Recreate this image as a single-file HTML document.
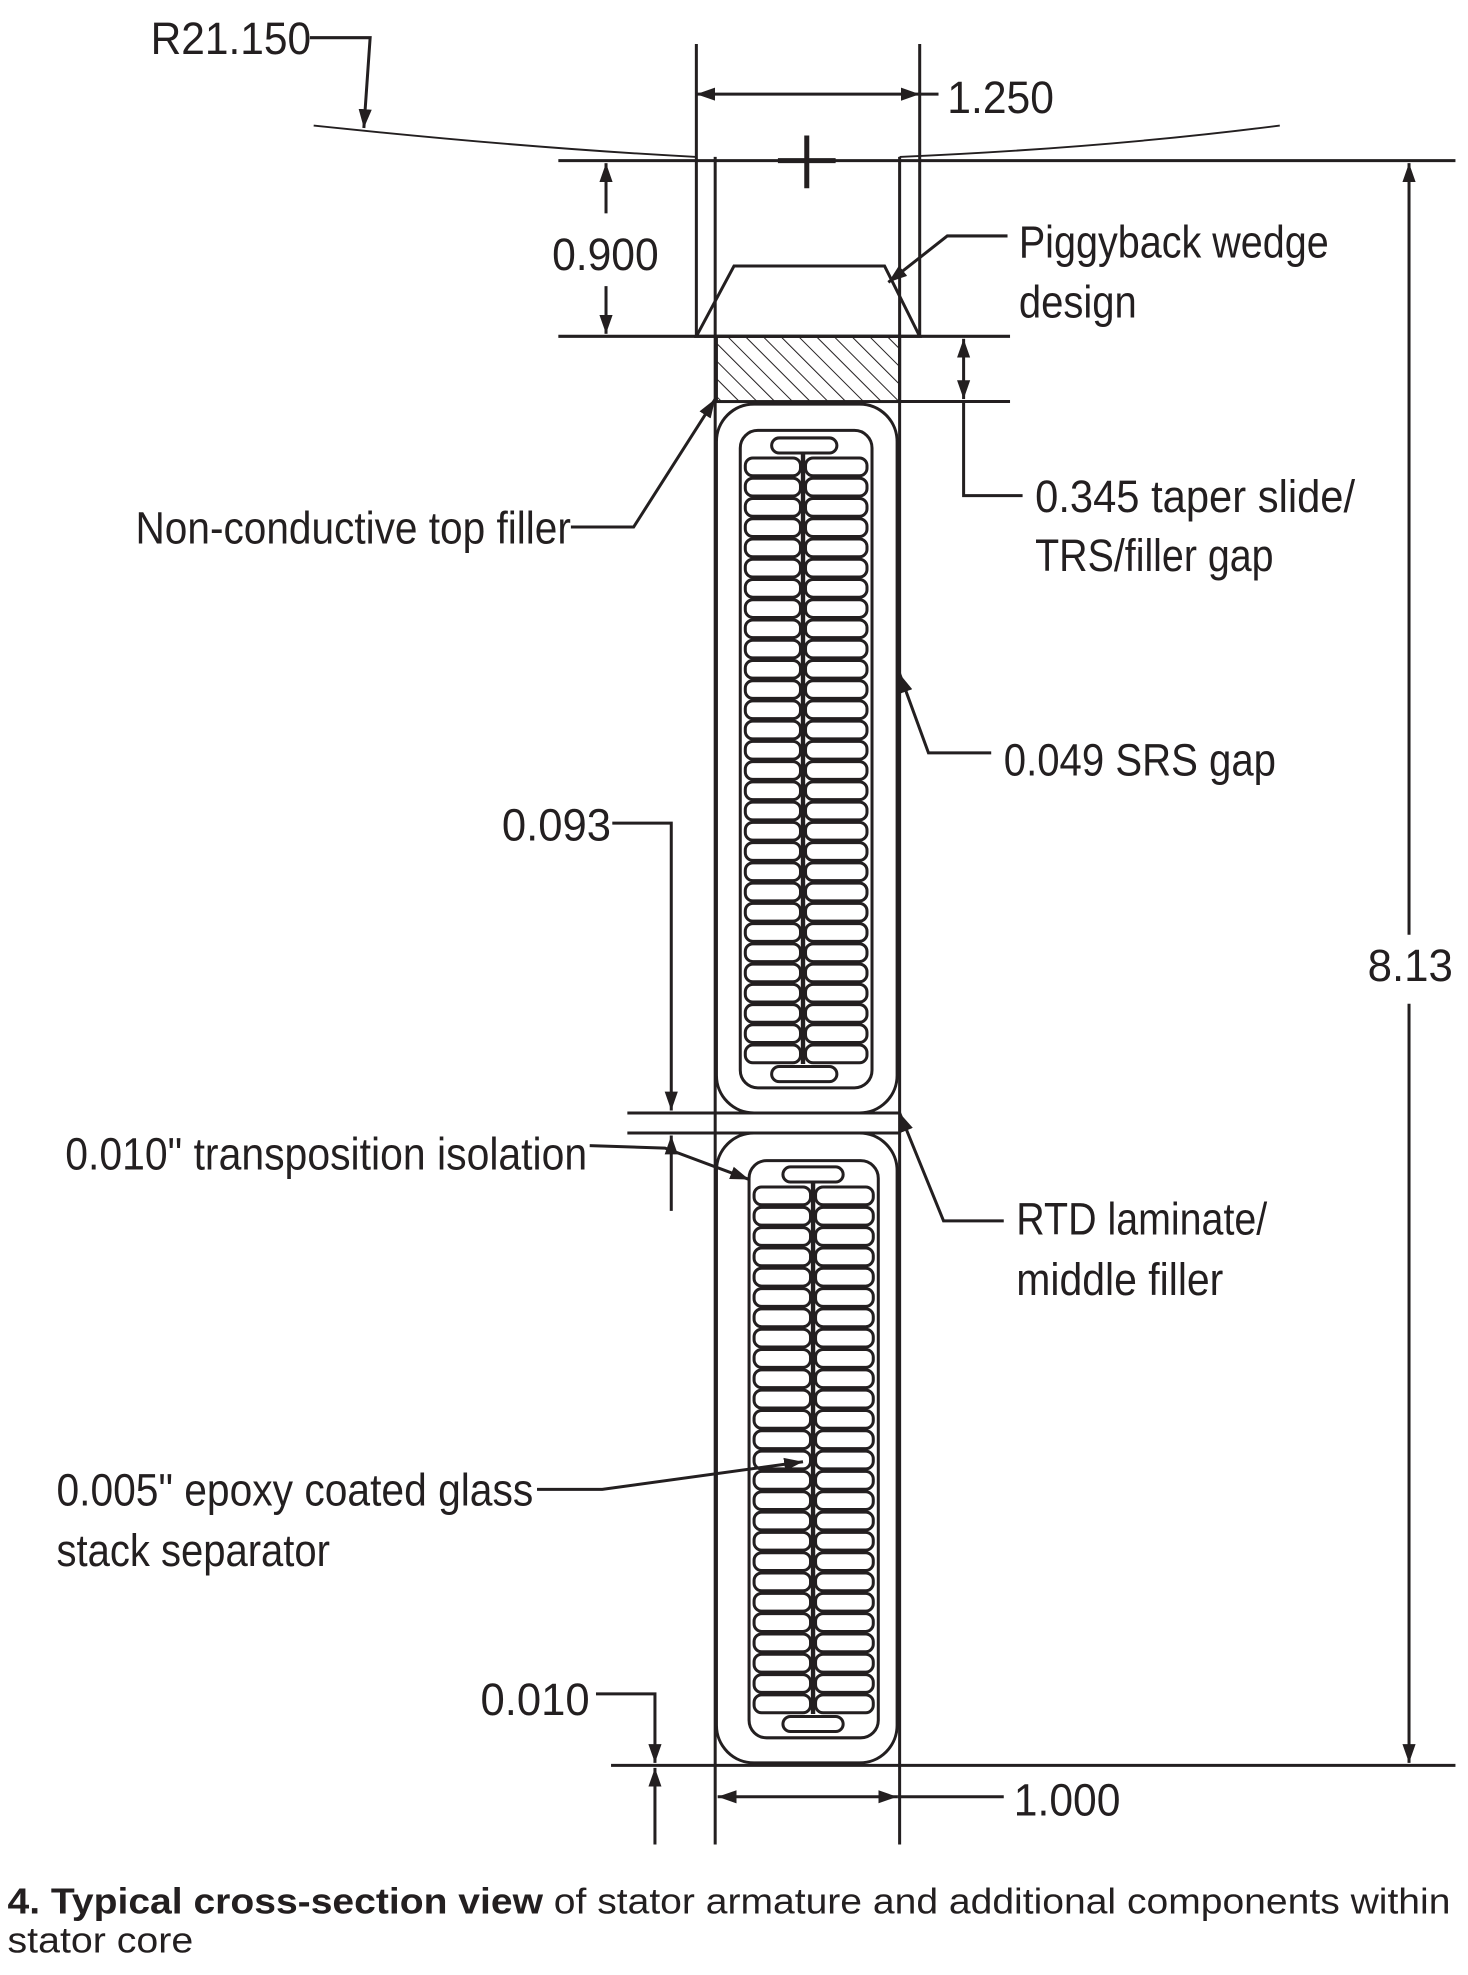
<!DOCTYPE html>
<html><head><meta charset="utf-8"><style>
html,body{margin:0;padding:0;background:#fff;}
svg{display:block;}
text{font-family:"Liberation Sans Narrow","Liberation Sans",sans-serif;fill:#231f20;}
.cap{font-family:"Liberation Sans",sans-serif;}
</style></head><body>
<svg id="s" width="1468" height="1975" viewBox="0 0 1170 1574" xmlns="http://www.w3.org/2000/svg">
<defs>
<marker id="a" viewBox="0 0 10 10" refX="10" refY="5" markerWidth="15" markerHeight="15" orient="auto-start-reverse" markerUnits="userSpaceOnUse"><path d="M0,1.5 L10,5 L0,8.5 z" fill="#231f20"/></marker>
<pattern id="h" width="10" height="10" patternUnits="userSpaceOnUse" patternTransform="rotate(-45)"><line x1="0" y1="0" x2="0" y2="10" stroke="#231f20" stroke-width="1.6"/></pattern>
</defs>
<g stroke="#231f20" stroke-width="2.4" fill="none" id="g">
<path d="M250,100 Q420,118 555,125" stroke-width="1.5"/>
<path d="M717,125 Q880,118 1020,100" stroke-width="1.5"/>
<line x1="445" y1="128" x2="1160" y2="128"/>
<line x1="643" y1="108" x2="643" y2="150" stroke-width="4"/>
<line x1="620" y1="128" x2="666" y2="128" stroke-width="4"/>
<line x1="555" y1="35" x2="555" y2="268"/>
<line x1="733" y1="35" x2="733" y2="268"/>
<line x1="570" y1="125" x2="570" y2="1470"/>
<line x1="717" y1="125" x2="717" y2="1470"/>
<line x1="555" y1="75" x2="733" y2="75" marker-start="url(#a)" marker-end="url(#a)"/>
<line x1="733" y1="75" x2="748" y2="75"/>
<polyline points="247,30 295,30 290,102" marker-end="url(#a)"/>
<path d="M585,212 L705,212 L733,268 L555,268 z"/>
<line x1="445" y1="268" x2="805" y2="268"/>
<rect x="571" y="268" width="146" height="52" fill="url(#h)"/>
<line x1="717" y1="320" x2="805" y2="320"/>
<!-- 0.900 -->
<line x1="483" y1="170" x2="483" y2="130" marker-end="url(#a)"/>
<line x1="483" y1="228" x2="483" y2="266" marker-end="url(#a)"/>
<!-- 0.345 -->
<line x1="768" y1="270" x2="768" y2="318" marker-start="url(#a)" marker-end="url(#a)"/>
<polyline points="768,320 768,395 815,395"/>
<polyline points="803,188 755,188 708,225" marker-end="url(#a)"/>
<rect x="571" y="322" width="144" height="565" rx="30"/>
<rect x="590" y="343" width="105" height="524" rx="14"/>
<line x1="640" y1="362" x2="640" y2="848" stroke-width="3.5"/>
<line x1="500" y1="887" x2="717" y2="887"/>
<line x1="500" y1="903" x2="717" y2="903"/>
<rect x="571" y="903" width="144" height="502" rx="30"/>
<rect x="597" y="925" width="103" height="460" rx="14"/>
<line x1="648" y1="943" x2="648" y2="1366" stroke-width="3.5"/>
<line x1="487" y1="1407" x2="1160" y2="1407"/>
<!-- 8.13 -->
<line x1="1123" y1="745" x2="1123" y2="130" marker-end="url(#a)"/>
<line x1="1123" y1="800" x2="1123" y2="1405" marker-end="url(#a)"/>
<line x1="572" y1="1432" x2="715" y2="1432" marker-start="url(#a)" marker-end="url(#a)"/>
<line x1="715" y1="1432" x2="800" y2="1432"/>
<polyline points="475,1350 522,1350 522,1405" marker-end="url(#a)"/>
<line x1="522" y1="1470" x2="522" y2="1409" marker-end="url(#a)"/>
<polyline points="488,656 535,656 535,885" marker-end="url(#a)"/>
<line x1="535" y1="965" x2="535" y2="905" marker-end="url(#a)"/>
<polyline points="470,913 530,915 597,940" marker-end="url(#a)"/>
<polyline points="455,420 505,420 570,318" marker-end="url(#a)"/>
<polyline points="790,600 740,600 717,537" marker-end="url(#a)"/>
<polyline points="800,973 752,973 717,887" marker-end="url(#a)"/>
<polyline points="428,1187 480,1187 640,1165" marker-end="url(#a)"/>
</g>
<g font-size="36">
<text x="120" y="43" textLength="128" lengthAdjust="spacingAndGlyphs">R21.150</text>
<text x="755" y="90" textLength="85" lengthAdjust="spacingAndGlyphs">1.250</text>
<text x="440" y="215" textLength="85" lengthAdjust="spacingAndGlyphs">0.900</text>
<text x="812" y="205" textLength="247" lengthAdjust="spacingAndGlyphs">Piggyback wedge</text>
<text x="812" y="253" textLength="94" lengthAdjust="spacingAndGlyphs">design</text>
<text x="108" y="433" textLength="347" lengthAdjust="spacingAndGlyphs">Non-conductive top filler</text>
<text x="825" y="408" textLength="255" lengthAdjust="spacingAndGlyphs">0.345 taper slide/</text>
<text x="825" y="455" textLength="190" lengthAdjust="spacingAndGlyphs">TRS/filler gap</text>
<text x="800" y="618" textLength="217" lengthAdjust="spacingAndGlyphs">0.049 SRS gap</text>
<text x="400" y="670" textLength="87" lengthAdjust="spacingAndGlyphs">0.093</text>
<text x="1090" y="782" textLength="68" lengthAdjust="spacingAndGlyphs">8.13</text>
<text x="52" y="932" textLength="416" lengthAdjust="spacingAndGlyphs">0.010" transposition isolation</text>
<text x="810" y="984" textLength="200" lengthAdjust="spacingAndGlyphs">RTD laminate/</text>
<text x="810" y="1032" textLength="165" lengthAdjust="spacingAndGlyphs">middle filler</text>
<text x="45" y="1200" textLength="380" lengthAdjust="spacingAndGlyphs">0.005" epoxy coated glass</text>
<text x="45" y="1248" textLength="218" lengthAdjust="spacingAndGlyphs">stack separator</text>
<text x="383" y="1367" textLength="87" lengthAdjust="spacingAndGlyphs">0.010</text>
<text x="808" y="1447" textLength="85" lengthAdjust="spacingAndGlyphs">1.000</text>
</g>
<text class="cap" x="6" y="1525" font-size="29" textLength="1150" lengthAdjust="spacingAndGlyphs"><tspan font-weight="bold">4. Typical cross-section view</tspan> of stator armature and additional components within</text>
<text class="cap" x="6" y="1556" font-size="29" textLength="148" lengthAdjust="spacingAndGlyphs">stator core</text>
</svg>
<script>
(function(){
var g=document.getElementById('g'),NS='http://www.w3.org/2000/svg';
function r(x,y,w,h,rx){var e=document.createElementNS(NS,'rect');e.setAttribute('x',x);e.setAttribute('y',y);e.setAttribute('width',w);e.setAttribute('height',h);e.setAttribute('rx',rx);g.appendChild(e);}
function bar(x0,x1,xm,y0,y1,n){
 var p=(y1-y0)/n;
 for(var i=0;i<n;i++){var y=y0+i*p+1;r(x0,y,xm-x0-2,p-2,6);r(xm+2,y,x1-xm-2,p-2,6);}
}
r(615,349,52,12,6); r(615,850,52,12,6);
bar(594,691,640,364,848,30);
r(624,930,48,12,6); r(624,1368,48,12,6);
bar(601,696,648,945,1366,26);
})();
</script>
</body></html>
